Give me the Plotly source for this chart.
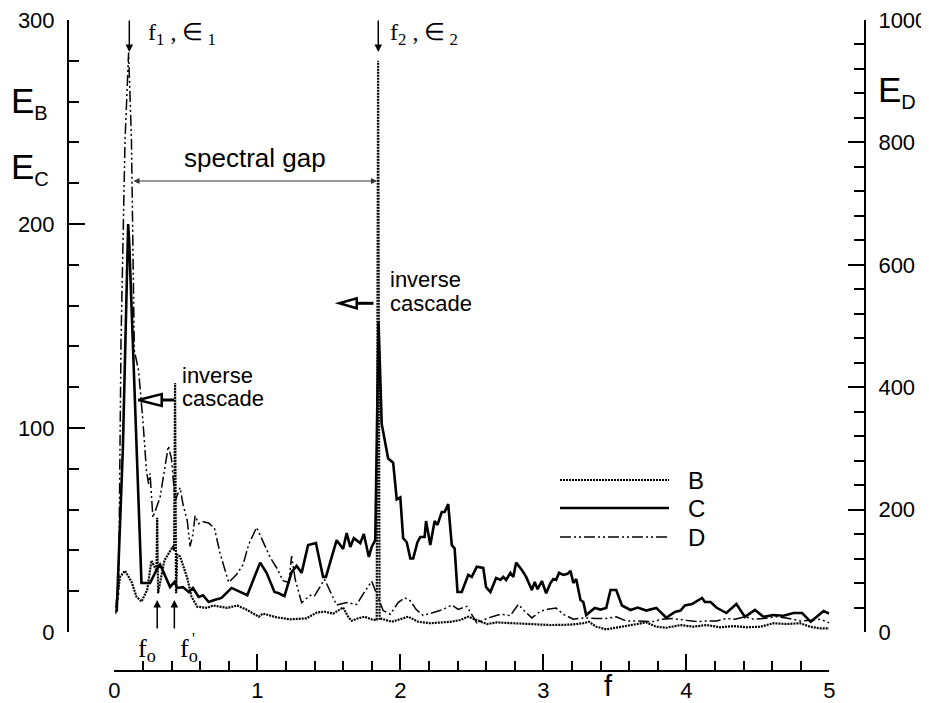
import plotly.graph_objects as go

# ---------------- data ----------------
# Case B (left axis, dotted)
B_f = [0.01, 0.04, 0.075, 0.12, 0.155, 0.19, 0.23, 0.26, 0.295, 0.30,
       0.306, 0.35, 0.41, 0.418, 0.425, 0.432, 0.44, 0.46, 0.51, 0.54,
       0.58, 0.65, 0.69, 0.79, 0.86, 0.93, 1.01, 1.04, 1.135, 1.23,
       1.345, 1.415, 1.47, 1.53, 1.60, 1.635, 1.66, 1.695, 1.75, 1.81,
       1.835, 1.845, 1.855, 1.87, 1.94, 2.0, 2.055, 2.125, 2.21, 2.35,
       2.42, 2.475, 2.535, 2.605, 2.675, 2.77, 2.91, 3.05, 3.19, 3.28,
       3.32, 3.37, 3.44, 3.54, 3.63, 3.72, 3.79, 3.86, 3.96, 4.05,
       4.14, 4.24, 4.33, 4.42, 4.52, 4.61, 4.70, 4.795, 4.865, 4.935,
       5.0]
B_E = [12, 27, 30, 24.7, 17.3, 14.9, 20.6, 35, 30, 56,
       19, 35, 42, 40, 122, 19, 38, 37, 26.5, 17.3,
       12.4, 11.8, 13, 11.8, 13, 10.8, 7.5, 9, 7.2, 6.2,
       6.7, 9.5, 10, 9, 12, 7.5, 5.5, 6.5, 7.5, 5.9,
       6, 280, 6, 6.5, 5, 6.2, 7.5, 5, 4.3, 5,
       5.9, 7.5, 5.9, 3.9, 4.7, 4.3, 3.9, 3.4, 3.6, 4.3,
       5, 2.6, 1.3, 2.5, 3.4, 4.7, 2.6, 2.1, 3.4, 2.6,
       3.4, 2.3, 2.9, 2.3, 2.6, 4.3, 3.9, 4.3, 2.6, 1.8,
       1.8]

# Case C (left axis, solid)
C_f = [0.017, 0.06, 0.097, 0.105, 0.19, 0.25, 0.30, 0.32, 0.34, 0.366,
       0.39, 0.42, 0.44, 0.48, 0.52, 0.55, 0.59, 0.62, 0.66, 0.70,
       0.75, 0.82, 0.93, 0.98, 1.02, 1.065, 1.12, 1.15, 1.19, 1.24,
       1.275, 1.31, 1.355, 1.41, 1.46, 1.48, 1.555, 1.60, 1.625, 1.65,
       1.675, 1.72, 1.745, 1.78, 1.80, 1.825, 1.848, 1.87, 1.915, 1.95,
       1.975, 2.0, 2.02, 2.045, 2.07, 2.09, 2.12, 2.14, 2.17, 2.18,
       2.21, 2.24, 2.26, 2.29, 2.31, 2.335, 2.36, 2.38, 2.40, 2.43,
       2.475, 2.50, 2.535, 2.58, 2.60, 2.63, 2.67, 2.70, 2.72, 2.74,
       2.77, 2.79, 2.81, 2.85, 2.88, 2.92, 2.94, 2.96, 2.99, 3.02,
       3.05, 3.07, 3.09, 3.11, 3.14, 3.17, 3.19, 3.21, 3.23, 3.26,
       3.28, 3.30, 3.33, 3.36, 3.40, 3.44, 3.47, 3.51, 3.55, 3.61,
       3.66, 3.72, 3.79, 3.86, 3.92, 3.96, 3.99, 4.04, 4.11, 4.13,
       4.17, 4.21, 4.28, 4.35, 4.41, 4.48, 4.54, 4.61, 4.68, 4.75,
       4.81, 4.87, 4.91, 4.96, 5.0]
C_E = [10, 90, 200, 190, 24, 24, 31, 33, 30, 26,
       22, 24.5, 21.6, 22, 19.6, 21.6, 17.2, 18, 14.7, 15.7,
       16.7, 21.6, 18, 27, 34, 29, 19.6, 19, 17.6, 29.4,
       32.4, 29, 42.6, 43.6, 27, 27, 45, 40.7, 48.5, 41.7,
       46, 43.6, 48, 36.8, 41.7, 45, 152, 102, 85, 83,
       65, 66, 46, 44, 36, 36, 44, 46.6, 46.6, 54.4,
       42.6, 54.4, 52.5, 58.8, 58.8, 62.7, 42.6, 41, 19.6, 19.6,
       28, 27, 32, 31.4, 22, 19.6, 26.5, 25.5, 27, 25.5,
       29, 27, 34, 30.4, 27, 20.6, 24.5, 21, 25, 19,
       24, 26, 25.5, 29, 28, 28.5, 30, 24, 26, 15.7,
       14.7, 8.3, 10, 11.8, 11, 11.8, 20.6, 20.6, 13, 10.8,
       12, 10.5, 11.8, 7, 9.8, 10.5, 13, 13.7, 16.7, 14.7,
       14.7, 12, 9.3, 13.7, 7.4, 10.8, 7.4, 8.3, 8, 9.3,
       9.3, 5, 7.4, 10.3, 9]

# Case D (right axis, dash-dot-dot)
D_f = [0.01, 0.03, 0.047, 0.075, 0.10, 0.12, 0.14, 0.17, 0.20, 0.225,
       0.24, 0.25, 0.27, 0.285, 0.32, 0.378, 0.40, 0.425, 0.436, 0.46,
       0.48, 0.51, 0.53, 0.55, 0.565, 0.59, 0.62, 0.66, 0.70, 0.74,
       0.80, 0.855, 0.90, 0.94, 0.995, 1.04, 1.09, 1.135, 1.18, 1.22,
       1.24, 1.265, 1.31, 1.37, 1.40, 1.47, 1.555, 1.625, 1.695, 1.74,
       1.80, 1.835, 1.88, 1.93, 1.985, 2.03, 2.07, 2.11, 2.16, 2.22,
       2.30, 2.36, 2.405, 2.465, 2.51, 2.535, 2.615, 2.70, 2.77, 2.825,
       2.87, 2.92, 2.98, 3.03, 3.09, 3.14, 3.21, 3.29, 3.37, 3.44,
       3.51, 3.58, 3.65, 3.77, 3.83, 3.91, 4.0, 4.07, 4.14, 4.21,
       4.28, 4.34, 4.41, 4.47, 4.54, 4.63, 4.70, 4.80, 4.865, 4.935,
       5.0]
D_E = [30, 62, 476, 803, 947, 803, 460, 427, 345, 263,
       242, 259, 187, 198, 220, 304, 283, 214, 220, 236,
       209, 182, 140, 160, 190, 177, 180, 178, 170, 128,
       81, 94, 110, 143, 171, 149, 122, 105, 84, 81,
       124, 86, 48, 60, 59, 86, 44, 48, 45, 62,
       83, 62, 35, 29, 48, 56, 51, 37, 27, 31,
       37, 44, 37, 42, 24, 15, 23, 29, 27, 45,
       34, 23, 34, 37, 39, 29, 21, 23, 22, 22,
       25, 18, 18, 17, 21, 22, 19, 17, 18, 18,
       22, 21, 25, 21, 22, 25, 23, 18, 19, 21,
       15]

series_names = ["B", "C", "D"]
x_ticks = [0, 1, 2, 3, 4, 5]

# ---------------- styles ----------------
SANS = "Liberation Sans, Arial, Helvetica, sans-serif"
SERIF = "Liberation Serif, Times New Roman, serif"
B_line = dict(color="black", width=2.2, dash="2px,1px")
C_line = dict(color="black", width=2.6)
D_line = dict(color="black", width=1.5, dash="11px,3px,2px,3px,2px,3px")

# The page body adds an 8px offset; the figure is sized so that the
# screenshot lines up with the reference pixel positions.
OFF = 8
W, H = 929 - OFF, 703 - OFF
ml, mt = 68 - OFF, 20 - OFF
mr, mb = W - (865 - OFF), H - (671 - OFF)
pw, ph = W - ml - mr, H - mt - mb


# reference-pixel -> data / paper helpers for decoration placement
def fx(px):
    return (px - 114.3) / 143.0


def fy(py):
    return (632.0 - py) / 2.04


def xp(px):
    return (px - 68.0) / pw


def yp(py):
    return (671.0 - py) / ph


ydom0 = yp(632)

fig = go.Figure()
fig.add_trace(go.Scatter(x=B_f, y=B_E, mode="lines", line=B_line, name="B",
                         xaxis="x", yaxis="y", showlegend=False))
fig.add_trace(go.Scatter(x=C_f, y=C_E, mode="lines", line=C_line, name="C",
                         xaxis="x", yaxis="y", showlegend=False))
fig.add_trace(go.Scatter(x=D_f, y=D_E, mode="lines", line=D_line, name="D",
                         xaxis="x", yaxis="y2", showlegend=False))

axis_common = dict(showline=True, linecolor="black", linewidth=2,
                   ticks="inside", tickwidth=2, tickcolor="black",
                   showgrid=False, zeroline=False, ticklabeloverflow="allow",
                   tickfont=dict(family=SANS, size=22, color="black"))

fig.update_layout(
    width=W, height=H,
    margin=dict(l=ml, r=mr, t=mt, b=mb, autoexpand=False),
    paper_bgcolor="white", plot_bgcolor="white",
    font=dict(family=SANS, color="black"),
    xaxis=dict(domain=[xp(114.3), xp(829.3)], range=[0, 5],
               anchor="free", position=0, tickvals=x_ticks, ticklen=16,
               minor=dict(ticks="inside", ticklen=9, tickwidth=1.5, dtick=0.2,
                          tickcolor="black", showgrid=False),
               ticklabelstandoff=0, **axis_common),
    yaxis=dict(domain=[ydom0, 1], range=[0, 300], anchor="free", position=0,
               side="left", dtick=100, tick0=0, ticklen=16,
               minor=dict(ticks="inside", ticklen=10, tickwidth=1.5, dtick=20,
                          tickcolor="black", showgrid=False),
               ticklabelstandoff=8, **axis_common),
    yaxis2=dict(range=[0, 1000], overlaying="y", anchor="free", position=1,
                side="right", dtick=200, tick0=0, ticklen=16,
                minor=dict(ticks="inside", ticklen=10, tickwidth=1.5, dtick=40,
                           tickcolor="black", showgrid=False),
                ticklabelstandoff=8, **axis_common),
)

ann = []
# forcing arrows
for xf in (0.105, 1.846):
    ann.append(dict(x=xf, y=fy(52), xref="x", yref="y", ax=0, ay=-33, text="",
                    showarrow=True, arrowhead=2, arrowsize=1, arrowwidth=1.5,
                    arrowcolor="black", standoff=0))
ann.append(dict(x=fx(146), y=fy(34), xref="x", yref="y", xanchor="left",
                yanchor="middle", showarrow=False,
                text="f<sub>1</sub> , \u2208<sub> 1</sub>",
                font=dict(family=SERIF, size=24)))
ann.append(dict(x=fx(388), y=fy(34), xref="x", yref="y", xanchor="left",
                yanchor="middle", showarrow=False,
                text="f<sub>2</sub> , \u2208<sub> 2</sub>",
                font=dict(family=SERIF, size=24)))
# spectral gap
ann.append(dict(x=fx(377), y=fy(181), ax=fx(132), ay=fy(181), xref="x", yref="y",
                axref="x", ayref="y", text="", showarrow=True, arrowside="end+start",
                arrowhead=2, arrowsize=1, arrowwidth=1.2, arrowcolor="#333333",
                standoff=0, startstandoff=0))
ann.append(dict(x=fx(255), y=fy(158), xref="x", yref="y", showarrow=False,
                text="spectral gap", font=dict(family=SANS, size=26)))
# inverse cascade labels
for (px, py1, py2) in ((180, 375, 398), (388, 279, 303)):
    ann.append(dict(x=fx(px), y=fy(py1), xref="x", yref="y", xanchor="left",
                    yanchor="middle", showarrow=False, text="inverse",
                    font=dict(family=SANS, size=22)))
    ann.append(dict(x=fx(px), y=fy(py2), xref="x", yref="y", xanchor="left",
                    yanchor="middle", showarrow=False, text="cascade",
                    font=dict(family=SANS, size=22)))
# f_o arrows and labels
for xf in (0.30, 0.42):
    ann.append(dict(x=xf, y=fy(600), xref="x", yref="y", ax=0, ay=30, text="",
                    showarrow=True, arrowhead=2, arrowsize=1, arrowwidth=1.5,
                    arrowcolor="black", standoff=0))
ann.append(dict(x=fx(136), y=yp(650), xref="x", yref="paper", xanchor="left",
                yanchor="middle", showarrow=False, text="f<sub>o</sub>",
                font=dict(family=SERIF, size=26)))
ann.append(dict(x=fx(178), y=yp(650), xref="x", yref="paper", xanchor="left",
                yanchor="middle", showarrow=False, text="f<sub>o</sub>",
                font=dict(family=SERIF, size=26)))
ann.append(dict(x=fx(190), y=yp(638), xref="x", yref="paper", xanchor="left",
                yanchor="middle", showarrow=False, text="'",
                font=dict(family=SERIF, size=16)))
# axis titles
sub = '<sub><span style="font-size:20px">%s</span></sub>'
ann.append(dict(x=xp(9), y=yp(102), xref="paper", yref="paper",
                xanchor="left", yanchor="middle", showarrow=False,
                text="E" + sub % "B", font=dict(family=SANS, size=35)))
ann.append(dict(x=xp(9), y=yp(168), xref="paper", yref="paper",
                xanchor="left", yanchor="middle", showarrow=False,
                text="E" + sub % "C", font=dict(family=SANS, size=35)))
ann.append(dict(x=xp(876), y=yp(92), xref="paper", yref="paper",
                xanchor="left", yanchor="middle", showarrow=False,
                text="E" + sub % "D", font=dict(family=SANS, size=35)))
ann.append(dict(x=fx(608), y=yp(686), xref="x", yref="paper",
                xanchor="center", yanchor="middle", showarrow=False,
                text="f", font=dict(family=SANS, size=29)))
# legend labels
leg_y = [480, 508, 537]
for name, py in zip(series_names, leg_y):
    ann.append(dict(x=fx(686), y=fy(py), xref="x", yref="y", xanchor="left",
                    yanchor="middle", showarrow=False, text=name,
                    font=dict(family=SANS, size=24)))
fig.update_layout(annotations=ann)

shapes = []
# axis lines (free-positioned axes)
shapes.append(dict(type="line", xref="paper", yref="paper", x0=0, x1=0,
                   y0=ydom0, y1=1, line=dict(color="black", width=2)))
shapes.append(dict(type="line", xref="paper", yref="paper", x0=1, x1=1,
                   y0=ydom0, y1=1, line=dict(color="black", width=2)))
shapes.append(dict(type="line", xref="x", yref="paper", x0=0, x1=5,
                   y0=0, y1=0, line=dict(color="black", width=2)))
# legend keys
for line, py in zip((B_line, C_line, D_line), leg_y):
    shapes.append(dict(type="line", xref="x", yref="y", x0=fx(560), x1=fx(669),
                       y0=fy(py), y1=fy(py), line=line))
# inverse cascade open-head arrows
for (tip, base, end, py, half) in ((138.3, 161.7, 174, 400, 6),
                                   (339.3, 356.7, 373.5, 303.3, 5)):
    shapes.append(dict(type="line", xref="x", yref="y", x0=fx(base), x1=fx(end),
                       y0=fy(py), y1=fy(py), line=dict(color="black", width=3)))
    L = base - tip
    shapes.append(dict(type="path", xref="x", yref="y", xsizemode="pixel",
                       ysizemode="pixel", xanchor=fx(tip), yanchor=fy(py),
                       path="M0,0 L%g,%g L%g,%g Z" % (L, half, L, -half),
                       line=dict(color="black", width=2.5), fillcolor="white"))
fig.update_layout(shapes=shapes)

fig.write_html("out.html")
